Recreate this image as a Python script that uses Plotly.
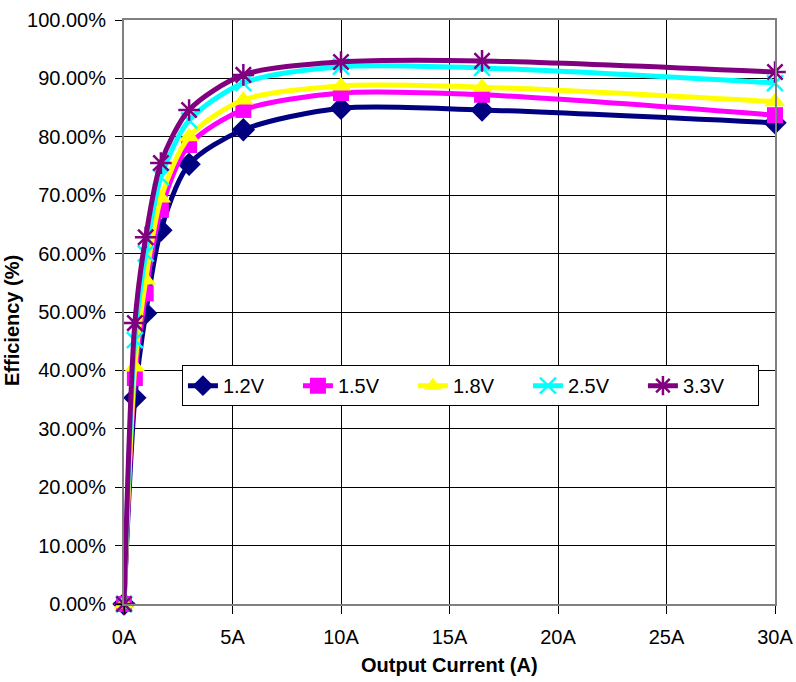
import plotly.graph_objects as go

current_a = [0, 0.5, 1.0, 1.7, 3.0, 5.5, 10, 16.5, 30]
eff_1v2 = [0.0, 35.3, 49.8, 64.0, 75.3, 81.2, 84.9, 84.6, 82.4]
eff_1v5 = [0.0, 38.7, 53.2, 67.5, 78.6, 84.6, 87.5, 87.2, 83.7]
eff_1v8 = [0.0, 40.6, 55.5, 69.5, 80.0, 86.3, 88.7, 88.5, 86.0]
eff_2v5 = [0.0, 45.2, 60.0, 73.1, 82.8, 89.2, 92.0, 91.8, 89.2]
eff_3v3 = [0.0, 48.1, 62.8, 75.5, 84.6, 90.6, 92.8, 93.0, 91.1]

series_names = ["1.2V", "1.5V", "1.8V", "2.5V", "3.3V"]
series_vals = [eff_1v2, eff_1v5, eff_1v8, eff_2v5, eff_3v3]
colors = ["#000080", "#FF00FF", "#FFFF00", "#00FFFF", "#800080"]
symbols = ["diamond", "square", "triangle-up", "x-thin-open", "asterisk-open"]
sizes = [18, 16, 18, 16, 18]

x_ticks = [0, 5, 10, 15, 20, 25, 30]
x_labels = ["0A", "5A", "10A", "15A", "20A", "25A", "30A"]

font_family = "Liberation Sans, Arial, sans-serif"

fig = go.Figure()
for name, vals, c, sym, sz in zip(series_names, series_vals, colors, symbols, sizes):
    open_sym = sym.endswith("-open")
    fig.add_trace(go.Scatter(
        x=current_a,
        y=[v / 100 for v in vals],
        name=name,
        mode="lines+markers",
        cliponaxis=False,
        line=dict(color=c, width=5, shape="spline", smoothing=0.8),
        marker=dict(symbol=sym, size=sz, color=c,
                    line=dict(color=c, width=2.5 if open_sym else 0)),
    ))

fig.update_layout(
    width=796, height=682,
    margin=dict(l=124, r=21, t=20, b=78, autoexpand=False),
    paper_bgcolor="white",
    plot_bgcolor="white",
    font=dict(family=font_family, size=20, color="black"),
    showlegend=True,
    legend=dict(
        orientation="h",
        x=0.089, y=0.409, xanchor="left", yanchor="top",
        bgcolor="white", bordercolor="black", borderwidth=1,
        font=dict(size=20, family=font_family),
        entrywidth=70, entrywidthmode="pixels",
        tracegroupgap=0,
    ),
    xaxis=dict(
        range=[0, 30],
        tickvals=x_ticks,
        ticktext=x_labels,
        showgrid=True, gridcolor="black", gridwidth=1,
        showline=True, linecolor="#808080", linewidth=2, mirror=True,
        ticks="outside", ticklen=8, tickcolor="black",
        ticklabelstandoff=6,
        zeroline=False,
        automargin=False,
    ),
    yaxis=dict(
        range=[0, 1.0],
        tickvals=[i / 10 for i in range(11)],
        tickformat=".2%",
        showgrid=True, gridcolor="black", gridwidth=1,
        showline=True, linecolor="#808080", linewidth=2, mirror=True,
        ticks="outside", ticklen=7, tickcolor="black",
        ticklabelstandoff=5,
        zeroline=False,
        automargin=False,
    ),
    annotations=[
        dict(text="<b>Efficiency (%)</b>", xref="paper", yref="paper",
             x=(12 - 124) / 651, y=(604 - 320) / 584, textangle=-90,
             showarrow=False, xanchor="center", yanchor="middle",
             font=dict(size=20)),
        dict(text="<b>Output Current (A)</b>", xref="paper", yref="paper",
             x=0.5, y=(604 - 665) / 584,
             showarrow=False, xanchor="center", yanchor="middle",
             font=dict(size=20)),
    ],
)

fig.write_html("out.html", config={"displayModeBar": False},
               post_script="document.body.style.margin='0';")
